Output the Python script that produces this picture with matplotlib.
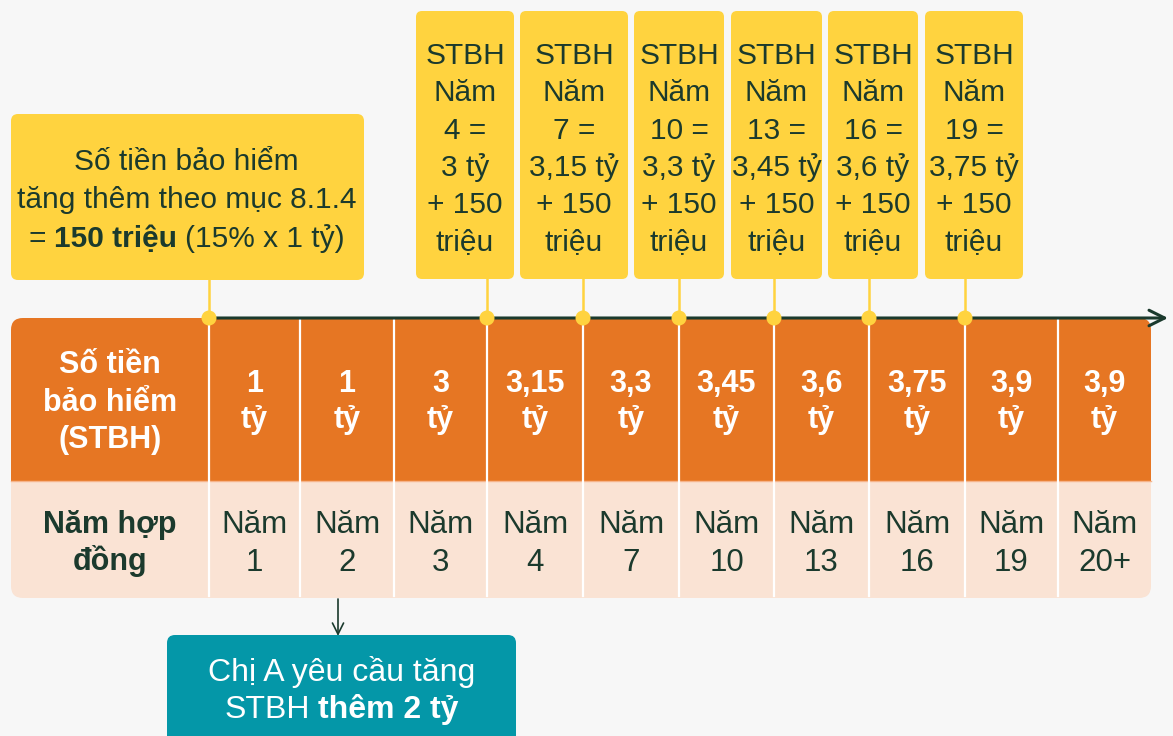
import matplotlib
matplotlib.use("Agg")
import matplotlib.pyplot as plt
from matplotlib.patches import FancyBboxPatch, Rectangle, Circle

# ---------------- data ----------------
stbh_values = ["1", "1", "3", "3,15", "3,3", "3,45", "3,6", "3,75", "3,9", "3,9"]
year_labels = ["1", "2", "3", "4", "7", "10", "13", "16", "19", "20+"]
callout_years = ["4", "7", "10", "13", "16", "19"]
callout_base = ["3", "3,15", "3,3", "3,45", "3,6", "3,75"]
callout_add = "150"
row_header_1 = ["Số tiền", "bảo hiểm", "(STBH)"]
row_header_2 = ["Năm hợp", "đồng"]
left_note = [[("Số tiền bảo hiểm", "normal")],
             [("tăng thêm theo mục 8.1.4", "normal")],
             [("=", "normal"), ("150 triệu", "bold"), ("(15% x 1 tỷ)", "normal")]]
bottom_note = [[("Chị A yêu cầu tăng", "normal")],
               [("STBH", "normal"), ("thêm 2 tỷ", "bold")]]

# ---------------- style ----------------
FONT = ["Liberation Sans", "DejaVu Sans"]
BG = "#F7F7F7"
DARK = "#1B3A2D"
YELLOW = "#FFD33F"
ORANGE = "#E67623"
PEACH = "#FAE3D4"
TEAL = "#0497A8"
W, H = 1173, 736

fig = plt.figure(figsize=(W / 100, H / 100), dpi=100, facecolor=BG)
ax = fig.add_axes([0, 0, 1, 1])
ax.set_xlim(0, W)
ax.set_ylim(H, 0)
ax.axis("off")
ax.set_facecolor(BG)
renderer = fig.canvas.get_renderer()


def rbox(x0, y0, x1, y1, color, r, z=1):
    p = FancyBboxPatch((x0, y0), x1 - x0, y1 - y0,
                       boxstyle=f"round,pad=0,rounding_size={r}",
                       fc=color, ec="none", zorder=z)
    ax.add_patch(p)


def mixed_line(xc, yb, segments, size, color, z=5):
    space = size * 100 / 72 * 569 / 2048
    texts, widths = [], []
    for s, w in segments:
        t = ax.text(0, yb, s, fontsize=size, fontweight=w, color=color,
                    ha="left", va="baseline", family=FONT, zorder=z)
        bb = t.get_window_extent(renderer)
        texts.append(t)
        widths.append(bb.width)
    total = sum(widths) + space * (len(widths) - 1)
    x = xc - total / 2
    for t, wd in zip(texts, widths):
        t.set_x(x)
        x += wd + space


def line(xc, yb, s, size, color, weight="normal", z=5):
    ax.text(xc, yb, s, fontsize=size, fontweight=weight, color=color,
            ha="center", va="baseline", family=FONT, zorder=z)


# ---------------- table ----------------
tx0, tx1 = 11, 1151
ty0, ymid, ty1 = 318, 481, 598
edges = [11, 209, 300, 394, 487, 583, 679, 774, 869, 965, 1058, 1151]

rbox(tx0, ty0, tx1, ty1, PEACH, 12, z=1)
rbox(tx0, ty0, tx1, ymid + 20, ORANGE, 12, z=2)
ax.add_patch(Rectangle((tx0, ymid), tx1 - tx0, 20, fc=PEACH, ec="none", zorder=3))
ax.plot([tx0, tx1], [ymid, ymid], color="#F6B48A", lw=1, zorder=3)
for xe in edges[1:-1]:
    ax.plot([xe, xe], [ty0, ty1 - 2], color="white", lw=1.6, zorder=4)

# header column
c0 = (edges[0] + edges[1]) / 2
for s, yb in zip(row_header_1, [373, 411, 448]):
    line(c0, yb, s, 22, "white", "bold")
for s, yb in zip(row_header_2, [533, 570]):
    line(c0, yb, s, 22, DARK, "bold")

for i, (v, yl) in enumerate(zip(stbh_values, year_labels)):
    xc = (edges[i + 1] + edges[i + 2]) / 2
    line(xc, 392, v, 22, "white", "bold")
    line(xc, 428, "tỷ", 22, "white", "bold")
    line(xc, 533, "Năm", 22.5, DARK)
    line(xc, 571, yl, 22.5, DARK)

# ---------------- timeline axis ----------------
ax.annotate("", xy=(1168, 318), xytext=(209, 318),
            arrowprops=dict(arrowstyle="->", color=DARK, lw=2.2,
                            mutation_scale=28, shrinkA=0, shrinkB=0),
            zorder=6)

# ---------------- left callout ----------------
rbox(11, 114, 364, 280, YELLOW, 7, z=2)
ax.plot([209, 209], [280, 318], color=YELLOW, lw=1.8, zorder=5)
ax.add_patch(Circle((209, 318), 7.5, fc=YELLOW, ec="none", zorder=7))
for segs, yb in zip(left_note, [170, 208, 247]):
    mixed_line(186.5, yb, segs, 21.5, DARK)

# ---------------- top callouts ----------------
boxes = [(416, 514), (520, 628), (634, 724), (731, 822), (828, 918), (925, 1023)]
anchors = [487, 583, 679, 774, 869, 965]
for (bx0, bx1), axx, yr, base in zip(boxes, anchors, callout_years, callout_base):
    rbox(bx0, 11, bx1, 279, YELLOW, 6, z=2)
    ax.plot([axx, axx], [279, 318], color=YELLOW, lw=1.8, zorder=5)
    ax.add_patch(Circle((axx, 318), 7.5, fc=YELLOW, ec="none", zorder=7))
    xc = (bx0 + bx1) / 2
    lines = ["STBH", "Năm", f"{yr} =", f"{base} tỷ", f"+ {callout_add}", "triệu"]
    for k, s in enumerate(lines):
        line(xc, 64 + k * 37.3, s, 21.5, DARK)

# ---------------- bottom note ----------------
ax.annotate("", xy=(338, 636), xytext=(338, 599),
            arrowprops=dict(arrowstyle="->", color=DARK, lw=1.2,
                            mutation_scale=20, shrinkA=0, shrinkB=0),
            zorder=6)
rbox(167, 635, 516, 760, TEAL, 8, z=2)
for segs, yb in zip(bottom_note, [681, 718]):
    mixed_line(341.5, yb, segs, 23, "white")

fig.savefig("out.png", dpi=100, facecolor=BG)
